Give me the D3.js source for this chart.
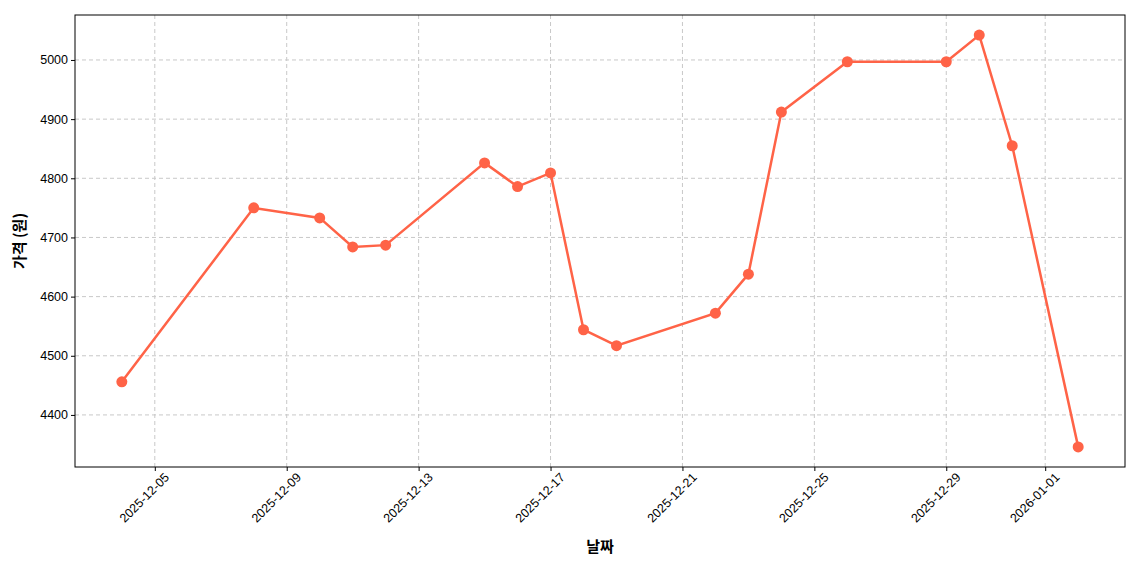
<!DOCTYPE html>
<html><head><meta charset="utf-8">
<script src="https://cdn.jsdelivr.net/npm/d3@7"></script>
<style>body{margin:0;background:#fff}svg{font-family:"Noto Sans CJK KR","Noto Sans",sans-serif}</style>
</head><body><svg id="c" width="1140" height="570"></svg>
<script>
const dates=["2025-12-04","2025-12-08","2025-12-10","2025-12-11","2025-12-12","2025-12-15","2025-12-16","2025-12-17","2025-12-18","2025-12-19","2025-12-22","2025-12-23","2025-12-24","2025-12-26","2025-12-29","2025-12-30","2025-12-31","2026-01-02"];
const prices=[4456,4750,4733,4684,4687,4826,4786,4809,4544,4517,4572,4638,4912,4997,4997,5042,4855,4346];
const xTicks=["2025-12-05","2025-12-09","2025-12-13","2025-12-17","2025-12-21","2025-12-25","2025-12-29","2026-01-01"];
const yTicks=[4400,4500,4600,4700,4800,4900,5000];
const P=d3.utcParse("%Y-%m-%d");
const data=dates.map((d,i)=>({d:P(d),v:prices[i]}));
const L=75,R=1125,T=15,B=467,day=864e5;
const x=d3.scaleUtc().domain([+P(dates[0])-1.42*day,+P(dates[dates.length-1])+1.42*day]).range([L,R]);
const y=d3.scaleLinear().domain([4312,5076]).range([B,T]);
const svg=d3.select("#c");
const g=svg.append("g");
g.selectAll(".gx").data(xTicks).join("line").attr("x1",d=>x(P(d))).attr("x2",d=>x(P(d))).attr("y1",T).attr("y2",B).attr("stroke","#c8c8c8").attr("stroke-dasharray","4,3");
g.selectAll(".gy").data(yTicks).join("line").attr("y1",d=>y(d)).attr("y2",d=>y(d)).attr("x1",L).attr("x2",R).attr("stroke","#c8c8c8").attr("stroke-dasharray","4,3");
const xa=svg.append("g").attr("transform",`translate(0,${B})`).call(d3.axisBottom(x).tickValues(xTicks.map(P)).tickFormat(d3.utcFormat("%Y-%m-%d")).tickSize(4).tickSizeOuter(0));
xa.selectAll("text").attr("font-size",12.5).attr("text-anchor","end").attr("dx","0.2em").attr("dy","0.9em").attr("transform","rotate(-45)").attr("fill","#000");
const ya=svg.append("g").attr("transform",`translate(${L},0)`).call(d3.axisLeft(y).tickValues(yTicks).tickFormat(d3.format("d")).tickSize(4).tickSizeOuter(0));
ya.selectAll("text").attr("font-size",12.5).attr("fill","#000");
svg.selectAll(".domain").remove();
svg.append("rect").attr("x",L).attr("y",T).attr("width",R-L).attr("height",B-T).attr("fill","none").attr("stroke","#000");
const c="#ff6347";
svg.append("path").datum(data).attr("d",d3.line().x(d=>x(d.d)).y(d=>y(d.v))).attr("fill","none").attr("stroke",c).attr("stroke-width",2.5);
svg.selectAll(".pt").data(data).join("circle").attr("cx",d=>x(d.d)).attr("cy",d=>y(d.v)).attr("r",5.5).attr("fill",c);
svg.append("text").attr("x",(L+R)/2).attr("y",552).attr("text-anchor","middle").attr("font-size",15).attr("font-weight","bold").text("날짜");
svg.append("text").attr("transform",`translate(25,${(T+B)/2}) rotate(-90)`).attr("text-anchor","middle").attr("font-size",15).attr("font-weight","bold").text("가격 (원)");
</script></body></html>
